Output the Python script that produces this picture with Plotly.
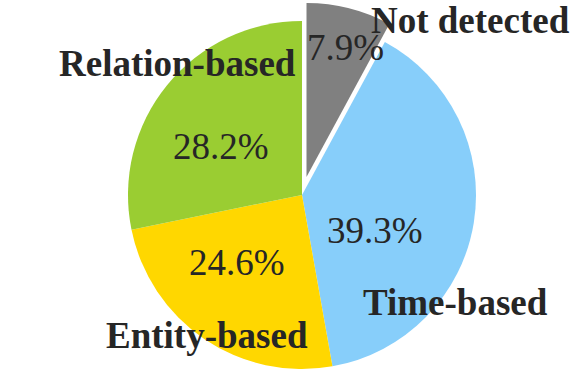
import plotly.graph_objects as go

# slice data, clockwise from 12 o'clock
categories = ["Not detected", "Time-based", "Entity-based", "Relation-based"]
shares = [7.9, 39.3, 24.6, 28.2]
colors = ["#808080", "#87CEFA", "#FFD700", "#9ACD32"]
exploded = "Not detected"

CLEAR = "rgba(0,0,0,0)"
FONT = "Liberation Serif, Times New Roman, Times, serif"
INK = "#262626"

# where the names and percentages sit, in paper coords
name_spots = {
    "Not detected": (0.809, 0.945),
    "Relation-based": (0.305, 0.829),
    "Time-based": (0.782, 0.190),
    "Entity-based": (0.3565, 0.103),
}
pct_spots = {
    "Not detected": (0.593, 0.872),
    "Relation-based": (0.379, 0.609),
    "Time-based": (0.6435, 0.384),
    "Entity-based": (0.408, 0.299),
}


def pie_trace(colours, x_dom, y_dom):
    return go.Pie(
        labels=categories,
        values=shares,
        sort=False,
        direction="clockwise",
        rotation=0,
        domain={"x": x_dom, "y": y_dom},
        marker={"colors": colours, "line": {"width": 0}},
        textinfo="none",
        showlegend=False,
        hoverinfo="label+percent",
    )


# main disc without the exploded slice
main_colours = [CLEAR if c == exploded else col for c, col in zip(categories, colors)]
# the exploded slice on its own, nudged outward (up and a bit right)
pulled_colours = [col if c == exploded else CLEAR for c, col in zip(categories, colors)]

fig = go.Figure()
fig.add_trace(pie_trace(main_colours, [0.2199, 0.8179], [0.0134, 0.9439]))
fig.add_trace(pie_trace(pulled_colours, [0.2276, 0.8256], [0.0615, 0.9920]))

for name, share in zip(categories, shares):
    x, y = name_spots[name]
    fig.add_annotation(
        x=x, y=y, xref="paper", yref="paper", xanchor="center", yanchor="middle",
        text=f"<b>{name}</b>", showarrow=False,
        font={"family": FONT, "size": 37, "color": INK},
    )
    x, y = pct_spots[name]
    fig.add_annotation(
        x=x, y=y, xref="paper", yref="paper", xanchor="center", yanchor="middle",
        text=f"{share:.1f}%", showarrow=False,
        font={"family": FONT, "size": 37, "color": INK},
    )

fig.update_layout(
    width=582,
    height=374,
    margin={"l": 0, "r": 0, "t": 0, "b": 0},
    paper_bgcolor="white",
)

# drop the browser's default body margin so the figure fills the window
fig.write_html(
    "out.html",
    config={"displayModeBar": False},
    post_script="document.body.style.margin = '0';",
)
